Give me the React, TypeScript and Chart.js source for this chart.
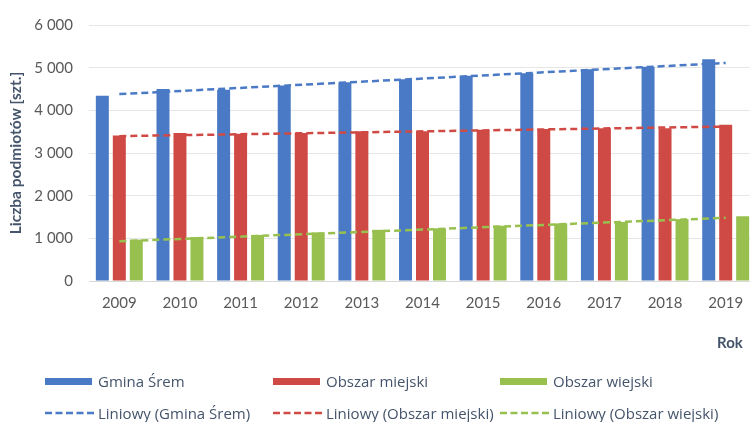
import React, { useEffect, useRef } from "react";
import { Chart, registerables } from "chart.js";

Chart.register(...registerables);

const years = ["2009", "2010", "2011", "2012", "2013", "2014", "2015", "2016", "2017", "2018", "2019"];
const gminaSrem = [4340, 4500, 4480, 4580, 4660, 4730, 4810, 4870, 4960, 5020, 5200];
const obszarMiejski = [3410, 3470, 3450, 3470, 3510, 3510, 3545, 3560, 3580, 3580, 3660];
const obszarWiejski = [970, 1030, 1080, 1140, 1200, 1235, 1295, 1350, 1385, 1450, 1520];
// trend line end points (2009, 2019)
const trendGmina = [4380, 5110];
const trendMiejski = [3395, 3620];
const trendWiejski = [930, 1480];
const yTicks = [0, 1000, 2000, 3000, 4000, 5000, 6000];

const BLUE = "#4a7ac6";
const RED = "#d04a45";
const GREEN = "#98c04f";
const TEXT = "#44546a";

function trendSeries(ends: number[]) {
  return years.map((_, i) => (i === 0 ? ends[0] : i === years.length - 1 ? ends[1] : null));
}

function fmt(v: number) {
  const s = String(v);
  return s.length > 3 ? s.slice(0, s.length - 3) + " " + s.slice(s.length - 3) : s;
}

const legendItems = [
  { label: "Gmina Śrem", color: BLUE, dashed: false, x: 45, y: 381 },
  { label: "Obszar miejski", color: RED, dashed: false, x: 273, y: 381 },
  { label: "Obszar wiejski", color: GREEN, dashed: false, x: 500, y: 381 },
  { label: "Liniowy (Gmina Śrem)", color: BLUE, dashed: true, x: 45, y: 413 },
  { label: "Liniowy (Obszar miejski)", color: RED, dashed: true, x: 273, y: 413 },
  { label: "Liniowy (Obszar wiejski)", color: GREEN, dashed: true, x: 500, y: 413 },
];

export default function App() {
  const ref = useRef<HTMLCanvasElement | null>(null);

  useEffect(() => {
    if (!ref.current) return;
    const lineDs = (label: string, ends: number[], color: string) => ({
      type: "line" as const,
      label,
      data: trendSeries(ends),
      borderColor: color,
      borderWidth: 2.5,
      borderDash: [7, 4],
      pointRadius: 0,
      spanGaps: true,
      fill: false,
      order: 0,
    });
    const barDs = (label: string, data: number[], color: string) => ({
      type: "bar" as const,
      label,
      data,
      backgroundColor: color,
      categoryPercentage: 0.84,
      barPercentage: 0.765,
      order: 1,
    });
    const chart = new Chart(ref.current, {
      type: "bar",
      data: {
        labels: years,
        datasets: [
          barDs("Gmina Śrem", gminaSrem, BLUE),
          barDs("Obszar miejski", obszarMiejski, RED),
          barDs("Obszar wiejski", obszarWiejski, GREEN),
          lineDs("Liniowy (Gmina Śrem)", trendGmina, BLUE),
          lineDs("Liniowy (Obszar miejski)", trendMiejski, RED),
          lineDs("Liniowy (Obszar wiejski)", trendWiejski, GREEN),
        ] as any,
      },
      options: {
        animation: false,
        responsive: false,
        layout: { padding: { left: 0, right: 4, top: 17, bottom: 0 } },
        plugins: { legend: { display: false }, tooltip: { enabled: false } },
        scales: {
          x: {
            grid: { display: false, drawTicks: false },
            border: { display: true, color: "#d9d9d9", width: 1 },
            ticks: { padding: 13, color: "#595959", font: { family: "Lato", size: 15 } },
            afterFit: (s: any) => {
              s.height = 141;
            },
          },
          y: {
            min: 0,
            max: 6000,
            afterBuildTicks: (s: any) => {
              s.ticks = yTicks.map((v) => ({ value: v }));
            },
            grid: { color: "#e6e6e6", drawTicks: false },
            border: { display: false },
            ticks: {
              padding: 16,
              color: "#595959",
              font: { family: "Lato", size: 15 },
              callback: (v: any) => fmt(Number(v)),
            },
            title: {
              display: true,
              text: "Liczba podmiotów [szt.]",
              color: TEXT,
              font: { family: "Lato", size: 15.5, weight: "bold" },
              padding: { top: 7, bottom: 0 },
            },
            afterFit: (s: any) => {
              s.width = 89;
            },
          },
        },
      },
    });
    return () => chart.destroy();
  }, []);

  return (
    <div
      style={{
        position: "fixed",
        left: 0,
        top: 0,
        width: 760,
        height: 422,
        background: "#fff",
        overflow: "hidden",
        fontFamily: "Lato, sans-serif",
      }}
    >
      <canvas ref={ref} width={760} height={422} style={{ position: "absolute", left: 0, top: 0 }} />
      <div
        style={{
          position: "absolute",
          left: 717,
          top: 342,
          transform: "translateY(-50%)",
          color: TEXT,
          fontWeight: "bold",
          fontSize: 15,
          lineHeight: "18px",
        }}
      >
        Rok
      </div>
      {legendItems.map((it) => (
        <div
          key={it.label}
          style={{
            position: "absolute",
            left: it.x,
            top: it.y,
            transform: "translateY(-50%)",
            display: "flex",
            alignItems: "center",
            whiteSpace: "nowrap",
            color: TEXT,
            fontFamily: "'Open Sans', sans-serif",
            fontSize: 15,
            lineHeight: "20px",
          }}
        >
          {it.dashed ? (
            <svg width={52} height={6} style={{ marginRight: 1 }}>
              <line x1={0} y1={3} x2={52} y2={3} stroke={it.color} strokeWidth={2.5} strokeDasharray="7 3.5" />
            </svg>
          ) : (
            <div style={{ width: 47, height: 7, background: it.color, marginRight: 6 }} />
          )}
          <span>{it.label}</span>
        </div>
      ))}
    </div>
  );
}
